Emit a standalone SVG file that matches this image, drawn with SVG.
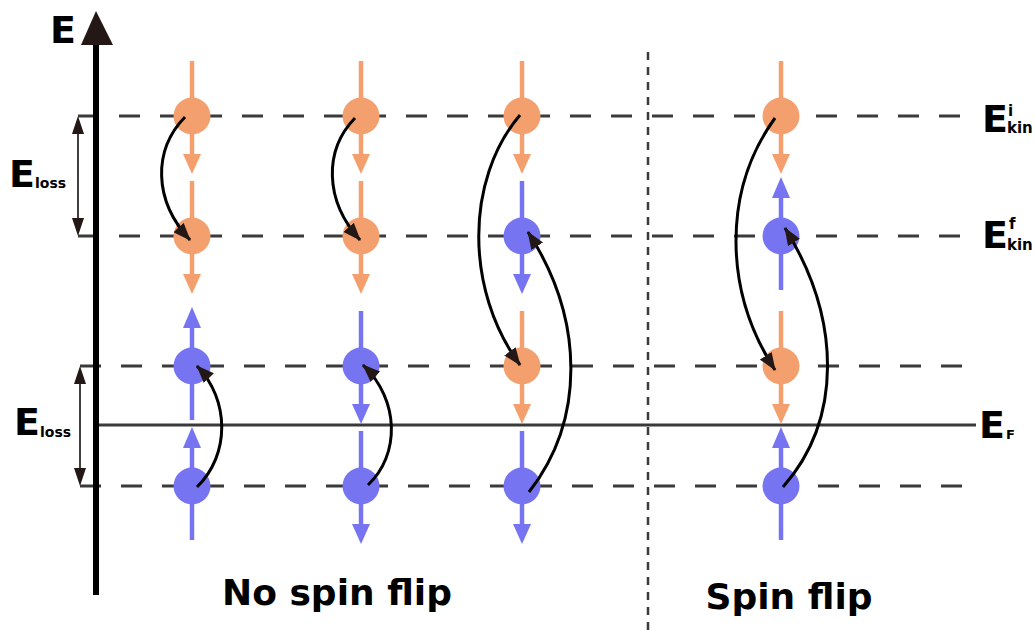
<svg xmlns="http://www.w3.org/2000/svg" xmlns:xlink="http://www.w3.org/1999/xlink" width="1035" height="630" viewBox="0 0 1035 630">
<style>
.lvl{stroke:#3a3a3a;stroke-width:3;stroke-dasharray:21 20;fill:none}
.ef{stroke:#3a3a3a;stroke-width:3;fill:none}
.sep{stroke:#3a3a3a;stroke-width:2.5;stroke-dasharray:8 7;fill:none}
.tr{stroke:#000;stroke-width:3;fill:none;marker-end:url(#ah)}
.lbl{font-family:"DejaVu Sans","Liberation Sans",sans-serif;font-weight:bold;fill:#000}
.o{fill:#F4A06E}
.b{fill:#7674F1}
.os{stroke:#F4A06E;stroke-width:4.5}
.bs{stroke:#7674F1;stroke-width:4.5}
</style>
<defs>
<marker id="ah" viewBox="0 0 18 14" refX="17" refY="7" markerWidth="18" markerHeight="14" markerUnits="userSpaceOnUse" orient="auto">
<path d="M0,0 L18,7 L0,14 Z" fill="#231815"/>
</marker>
<g id="oDown"><line class="os" x1="0" y1="-55" x2="0" y2="40"/><polygon class="o" points="-9,38 9,38 0,58"/><circle class="o" r="18.5"/></g>
<g id="bDown"><line class="bs" x1="0" y1="-55" x2="0" y2="40"/><polygon class="b" points="-9,38 9,38 0,58"/><circle class="b" r="18.5"/></g>
<g id="bUp"><line class="bs" x1="0" y1="-40" x2="0" y2="54"/><polygon class="b" points="-9,-38 9,-38 0,-59"/><circle class="b" r="18.5"/></g>
</defs>
<rect width="1035" height="630" fill="#fff"/>
<g id="levels">
<line class="lvl" x1="78" y1="116" x2="976" y2="116"/>
<line class="lvl" x1="78" y1="236" x2="976" y2="236"/>
<line class="lvl" x1="80" y1="366" x2="976" y2="366"/>
<line class="lvl" x1="80" y1="486" x2="976" y2="486"/>
<line class="ef" x1="97" y1="425" x2="976" y2="425"/>
<line class="sep" x1="648" y1="52" x2="648" y2="630"/>
</g>
<g id="axis">
<line x1="96" y1="44" x2="96" y2="595" stroke="#000" stroke-width="6"/>
<polygon points="96,11 81,45 113,45" fill="#231815"/>
<text class="lbl" x="50" y="43" font-size="38">E</text>
</g>
<g id="eloss-upper">
<line x1="78" y1="130" x2="78" y2="222" stroke="#000" stroke-width="1.5"/>
<polygon points="78,116 72,134 84,134" fill="#231815"/>
<polygon points="78,236 72,218 84,218" fill="#231815"/>
<text class="lbl" x="9" y="187" font-size="38">E<tspan font-size="14" dy="1">loss</tspan></text>
</g>
<g id="eloss-lower">
<line x1="80" y1="380" x2="80" y2="472" stroke="#000" stroke-width="1.5"/>
<polygon points="80,366 74,384 86,384" fill="#231815"/>
<polygon points="80,486 74,468 86,468" fill="#231815"/>
<text class="lbl" x="14" y="435" font-size="38">E<tspan font-size="14" dy="2">loss</tspan></text>
</g>
<g id="col1">
<use xlink:href="#oDown" x="192" y="116"/>
<use xlink:href="#oDown" x="192" y="236"/>
<use xlink:href="#bUp" x="192" y="366"/>
<use xlink:href="#bUp" x="192" y="486"/>
</g>
<g id="col2">
<use xlink:href="#oDown" x="361" y="116"/>
<use xlink:href="#oDown" x="361" y="236"/>
<use xlink:href="#bDown" x="361" y="366"/>
<use xlink:href="#bDown" x="361" y="486"/>
</g>
<g id="col3">
<use xlink:href="#oDown" x="522" y="116"/>
<use xlink:href="#bDown" x="522" y="236"/>
<use xlink:href="#oDown" x="522" y="366"/>
<use xlink:href="#bDown" x="522" y="486"/>
</g>
<g id="col4">
<use xlink:href="#oDown" x="781" y="116"/>
<use xlink:href="#bUp" x="781" y="236"/>
<use xlink:href="#oDown" x="781" y="366"/>
<use xlink:href="#bUp" x="781" y="486"/>
</g>
<g id="connectors">
<path class="tr" d="M185,117 C153,150 153,200 190,240"/>
<path class="tr" d="M197,487 C230,455 230,400 197,366"/>
<path class="tr" d="M355,118 C324,150 324,200 360,240"/>
<path class="tr" d="M368,485 C400,455 400,400 363,365"/>
<path class="tr" d="M520,115 C465,180 465,290 520,365"/>
<path class="tr" d="M529,492 C585,420 585,320 528,232"/>
<path class="tr" d="M775,118 C723,190 723,290 775,370"/>
<path class="tr" d="M783,487 C842,420 842,320 785,228"/>
</g>
<g id="labels">
<text class="lbl" x="982" y="132" font-size="38">E</text>
<text class="lbl" x="1008" y="116" font-size="15">i</text>
<text class="lbl" x="1007" y="133" font-size="15">kin</text>
<text class="lbl" x="982" y="248" font-size="38">E</text>
<text class="lbl" x="1009" y="229" font-size="15">f</text>
<text class="lbl" x="1007" y="250" font-size="15">kin</text>
<text class="lbl" x="979" y="438" font-size="38">E</text>
<text class="lbl" x="1006" y="439" font-size="13">F</text>
<text class="lbl" x="337" y="605" font-size="36" text-anchor="middle">No spin flip</text>
<text class="lbl" x="789" y="609" font-size="36" text-anchor="middle">Spin flip</text>
</g>
</svg>
